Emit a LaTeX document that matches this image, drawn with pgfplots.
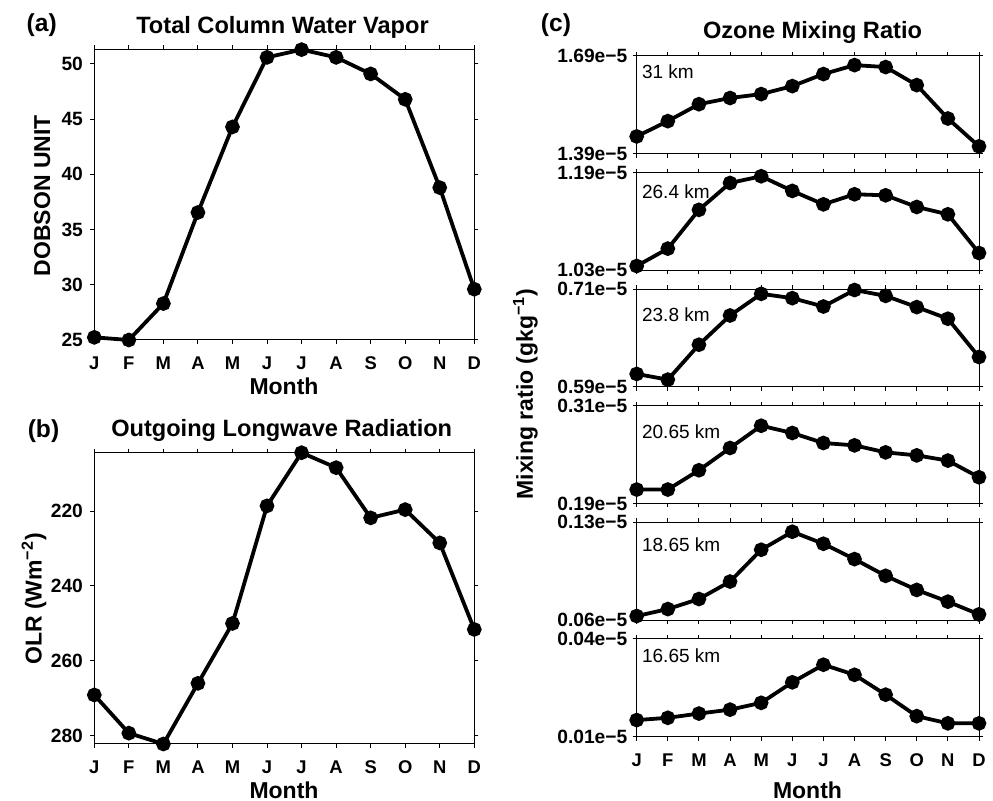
\documentclass[border=0pt]{standalone}
\usepackage{fontspec}
\setmainfont{Liberation Sans}
\usepackage{pgfplots}
\pgfplotsset{compat=1.18}

\newcommand\xtickfont{\fontsize{9.2}{10}\selectfont\bfseries}
\newcommand\ytickfont{\fontsize{9.6}{10}\selectfont\bfseries}
\newcommand\labfont{\fontsize{11.5}{13}\selectfont\bfseries}
\newcommand\titfont{\fontsize{11.8}{13}\selectfont\bfseries}
\newcommand\panfont{\fontsize{12.3}{14}\selectfont\bfseries}
\newcommand\kmfont{\fontsize{9.5}{11}\selectfont}

\tikzset{km/.style={anchor=base west, font=\kmfont, inner sep=0pt}}

\pgfplotsset{
  series/.style={black, solid, line width=1.9pt, mark=*, mark size=2.7pt,
    mark options={solid, fill=black, draw=black}},
  monthaxis/.style={
    scale only axis, clip=false,
    xmin=0, xmax=11, xtick={0,...,11},
    xticklabels={J,F,M,A,M,J,J,A,S,O,N,D},
    tick align=outside, xtick pos=both, ytick pos=both,
    major tick length=2pt, minor tick num=0,
    scaled y ticks=false,
    axis line style={line width=0.5pt},
    every tick/.style={black, line width=0.5pt},
    tick label style={inner sep=0pt},
    xticklabel style={font=\xtickfont, anchor=base, yshift=-12.8pt},
    yticklabel style={font=\ytickfont, anchor=east, xshift=-3.5pt},
    /pgf/number format/assume math mode=true,
  },
  ozone/.style={
    monthaxis, width=171.15pt, height=48.85pt,
    yticklabel style={xshift=1pt},
  },
}

\begin{document}
\begin{tikzpicture}
\useasboundingbox (0,0) rectangle (496.5pt,-400.5pt);

% (a) total column water vapour
\begin{axis}[monthaxis, at={(47.15pt,-24.65pt)}, anchor=north west,
  width=190pt, height=145.35pt,
  ymin=25, ymax=51.33, ytick={25,30,...,50}]
\addplot[series] coordinates {(0,25.24) (1,25.0) (2,28.3) (3,36.55) (4,44.3) (5,50.6)
  (6,51.3) (7,50.6) (8,49.1) (9,46.8) (10,38.8) (11,29.6)};
\end{axis}

% (b) outgoing longwave radiation, reversed axis
\begin{axis}[monthaxis, at={(47.15pt,-226.35pt)}, anchor=north west,
  width=190pt, height=145.65pt, y dir=reverse,
  ymin=204.4, ymax=282.2, ytick={220,240,260,280}]
\addplot[series] coordinates {(0,269.1) (1,279.3) (2,282.2) (3,266.0) (4,250.0) (5,218.6)
  (6,204.4) (7,208.4) (8,221.8) (9,219.6) (10,228.5) (11,251.6)};
\end{axis}

% (c) ozone mixing ratio at six levels (units of 1e-5 g/kg)
\begin{axis}[ozone, at={(318.35pt,-28pt)}, anchor=north west, xticklabels={},
  ymin=1.39, ymax=1.69, ytick={1.39,1.69}, yticklabels={1.39e−5,1.69e−5}]
\addplot[series] coordinates {(0,1.443) (1,1.490) (2,1.542) (3,1.561) (4,1.573) (5,1.5975)
  (6,1.6345) (7,1.662) (8,1.656) (9,1.6006) (10,1.498) (11,1.4125)};
\node[km] at (rel axis cs:0.0146,0.771) {31 km};
\end{axis}

\begin{axis}[ozone, at={(318.35pt,-86.3pt)}, anchor=north west, xticklabels={},
  ymin=1.03, ymax=1.19, ytick={1.03,1.19}, yticklabels={1.03e−5,1.19e−5}]
\addplot[series] coordinates {(0,1.037) (1,1.0655) (2,1.129) (3,1.173) (4,1.184) (5,1.160)
  (6,1.138) (7,1.1545) (8,1.1528) (9,1.1337) (10,1.1217) (11,1.0583)};
\node[km] at (rel axis cs:0.0146,0.734) {26.4 km};
\end{axis}

\begin{axis}[ozone, at={(318.35pt,-144.6pt)}, anchor=north west, xticklabels={},
  ymin=0.59, ymax=0.71, ytick={0.59,0.71}, yticklabels={0.59e−5,0.71e−5}]
\addplot[series] coordinates {(0,0.6059) (1,0.5989) (2,0.6418) (3,0.6777) (4,0.7043) (5,0.699)
  (6,0.6887) (7,0.709) (8,0.7018) (9,0.688) (10,0.6737) (11,0.6267)};
\node[km] at (rel axis cs:0.0146,0.67) {23.8 km};
\end{axis}

\begin{axis}[ozone, at={(318.35pt,-202.9pt)}, anchor=north west, xticklabels={},
  ymin=0.19, ymax=0.31, ytick={0.19,0.31}, yticklabels={0.19e−5,0.31e−5}]
\addplot[series] coordinates {(0,0.2071) (1,0.2071) (2,0.2308) (3,0.2582) (4,0.2855) (5,0.2766)
  (6,0.2643) (7,0.2614) (8,0.2528) (9,0.2491) (10,0.2427) (11,0.2222)};
\node[km] at (rel axis cs:0.0146,0.67) {20.65 km};
\end{axis}

\begin{axis}[ozone, at={(318.35pt,-261.2pt)}, anchor=north west, xticklabels={},
  ymin=0.06, ymax=0.13, ytick={0.06,0.13}, yticklabels={0.06e−5,0.13e−5}]
\addplot[series] coordinates {(0,0.0629) (1,0.0679) (2,0.0751) (3,0.0876) (4,0.1104) (5,0.1233)
  (6,0.1147) (7,0.1037) (8,0.0917) (9,0.0816) (10,0.0732) (11,0.0641)};
\node[km] at (rel axis cs:0.0146,0.702) {18.65 km};
\end{axis}

\begin{axis}[ozone, at={(318.35pt,-319.5pt)}, anchor=north west,
  ymin=0.01, ymax=0.04, ytick={0.01,0.04}, yticklabels={0.01e−5,0.04e−5}]
\addplot[series] coordinates {(0,0.0151) (1,0.0158) (2,0.0171) (3,0.0183) (4,0.0204) (5,0.0267)
  (6,0.0321) (7,0.029) (8,0.0229) (9,0.0163) (10,0.0141) (11,0.0141)};
\node[km] at (rel axis cs:0.0146,0.759) {16.65 km};
\end{axis}

% panel letters, titles and axis labels
\node[anchor=base, font=\panfont] at (20.85pt,-15.85pt) {(a)};
\node[anchor=base, font=\panfont] at (21.75pt,-218.85pt) {(b)};
\node[anchor=base, font=\panfont] at (278pt,-15.85pt) {(c)};

\node[anchor=base, font=\titfont] at (141.25pt,-16.65pt) {Total Column Water Vapor};
\node[anchor=base, font=\titfont] at (140.85pt,-218.35pt) {Outgoing Longwave Radiation};
\node[anchor=base, font=\titfont] at (406.25pt,-19.3pt) {Ozone Mixing Ratio};

\node[anchor=base, font=\labfont] at (142pt,-197.5pt) {Month};
\node[anchor=base, font=\labfont] at (142pt,-399.15pt) {Month};
\node[anchor=base, font=\labfont] at (403.75pt,-399.15pt) {Month};

\node[anchor=base, rotate=90, font=\labfont] at (25pt,-97.9pt) {DOBSON UNIT};
\node[anchor=base, rotate=90, font=\labfont] at (20.85pt,-299.5pt) {OLR (Wm\textsuperscript{−2})};
\node[anchor=base, rotate=90, font=\labfont] at (266.4pt,-197pt) {Mixing ratio (gkg\textsuperscript{−1})};
\end{tikzpicture}
\end{document}
